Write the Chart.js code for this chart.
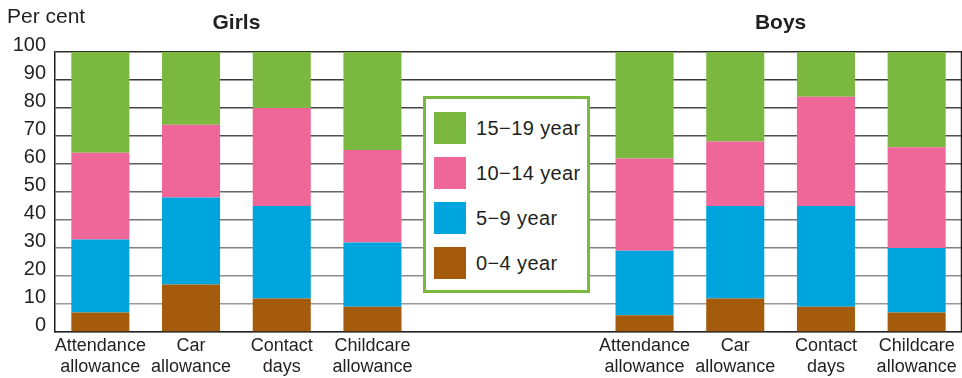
<!DOCTYPE html>
<html>
<head>
<meta charset="utf-8">
<script src="https://cdn.jsdelivr.net/npm/chart.js@4/dist/chart.umd.min.js"></script>
<style>
  html, body { margin: 0; padding: 0; background: #fff; }
  #wrap { position: relative; width: 962px; height: 378px; }
  #legend {
    position: absolute; left: 423px; top: 96px; width: 161px; height: 191px;
    border: 3px solid #7ab83f; background: #fff;
    font-family: 'Liberation Sans', Arial, sans-serif; font-size: 20px; letter-spacing: 0.4px; color: #231f20;
  }
  .item { position: absolute; left: 8px; height: 32px; }
  .sw { position: absolute; left: 0; top: 0; width: 32px; height: 32px; }
  .lt { position: absolute; left: 42px; top: 0; line-height: 32px; white-space: nowrap; }
</style>
</head>
<body>
<div id="wrap">
  <canvas id="c" width="962" height="378"></canvas>
  <div id="legend"></div>
</div>
<script>
// ---- data ----
const categories = [['Attendance', 'allowance'], ['Car', 'allowance'], ['Contact', 'days'], ['Childcare', 'allowance']];
const groups = ['Girls', 'Boys'];
const ageGroups = ['0−4 year', '5−9 year', '10−14 year', '15−19 year'];
const yAxisLabel = 'Per cent';

const girls_0_4   = [7, 17, 12, 9];
const girls_5_9   = [26, 31, 33, 23];
const girls_10_14 = [31, 26, 35, 33];
const girls_15_19 = [36, 26, 20, 35];

const boys_0_4   = [6, 12, 9, 7];
const boys_5_9   = [23, 33, 36, 23];
const boys_10_14 = [33, 23, 39, 36];
const boys_15_19 = [38, 32, 16, 34];

const colors = ['#a45c0c', '#00a5dd', '#ef6799', '#7ab83f'];

// ---- build ----
const gap = ['', ''];
const labels = [...categories, ...gap, ...categories];
function row(g, b) { return [...g, null, null, ...b]; }
const seriesData = [
  row(girls_0_4, boys_0_4),
  row(girls_5_9, boys_5_9),
  row(girls_10_14, boys_10_14),
  row(girls_15_19, boys_15_19)
];
const datasets = ageGroups.map((name, i) => ({
  label: name, data: seriesData[i], backgroundColor: colors[i],
  borderWidth: 0, barPercentage: 0.64, categoryPercentage: 1.0
}));

// legend (top to bottom: oldest first)
const leg = document.getElementById('legend');
[3, 2, 1, 0].forEach((idx, r) => {
  const it = document.createElement('div');
  it.className = 'item';
  it.style.top = (13 + r * 45) + 'px';
  it.innerHTML = '<div class="sw" style="background:' + colors[idx] + '"></div><div class="lt">' + ageGroups[idx] + '</div>';
  leg.appendChild(it);
});

const FONT = "'Liberation Sans', Arial, sans-serif";
const TXT = '#231f20';

const extras = {
  id: 'extras',
  afterDraw(chart) {
    const ctx = chart.ctx, a = chart.chartArea, xs = chart.scales.x;
    ctx.save();
    ctx.strokeStyle = TXT; ctx.lineWidth = 1.5;
    ctx.beginPath(); ctx.moveTo(a.right - 0.5, a.top); ctx.lineTo(a.right - 0.5, a.bottom); ctx.stroke();
    ctx.fillStyle = TXT;
    ctx.textBaseline = 'middle';
    ctx.font = '21px ' + FONT; ctx.textAlign = 'left';
    ctx.fillText(yAxisLabel, 7, 17);
    ctx.font = 'bold 21px ' + FONT; ctx.textAlign = 'center';
    const g = (xs.getPixelForValue(0) + xs.getPixelForValue(3)) / 2;
    const b = (xs.getPixelForValue(6) + xs.getPixelForValue(9)) / 2;
    ctx.fillText(groups[0], g, 23);
    ctx.fillText(groups[1], b, 23);
    ctx.restore();
  }
};

new Chart(document.getElementById('c'), {
  type: 'bar',
  data: { labels, datasets },
  plugins: [extras],
  options: {
    responsive: false, animation: false,
    layout: { padding: { top: 52, right: 0, left: 0, bottom: 0 } },
    plugins: { legend: { display: false }, tooltip: { enabled: false } },
    scales: {
      x: {
        stacked: true,
        grid: { display: false, drawTicks: false },
        border: { display: true, color: TXT, width: 1.5 },
        ticks: { font: { family: FONT, size: 18, lineHeight: 1.15 }, color: TXT, padding: 4, maxRotation: 0, autoSkip: false },
        afterFit(s) { s.height = 46; }
      },
      y: {
        stacked: true, min: 0, max: 100,
        grid: {
          drawTicks: false, lineWidth: 1.4,
          color: (c) => { const v = c.tick ? c.tick.value : 0; const g = Math.round(45 + (100 - v) * 1.2); return 'rgb(' + g + ',' + g + ',' + g + ')'; }
        },
        border: { display: true, color: TXT, width: 1.5 },
        ticks: { stepSize: 10, font: { family: FONT, size: 20 }, color: TXT, padding: 9, labelOffset: -7 },
        afterFit(s) { s.width = 55; }
      }
    }
  }
});
</script>
</body>
</html>
